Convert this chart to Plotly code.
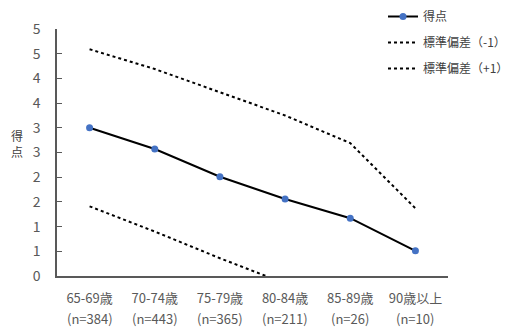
import plotly.graph_objects as go

categories = ["65-69歳", "70-74歳", "75-79歳", "80-84歳", "85-89歳", "90歳以上"]
n_labels = ["(n=384)", "(n=443)", "(n=365)", "(n=211)", "(n=26)", "(n=10)"]
score = [3.00, 2.57, 2.01, 1.56, 1.17, 0.51]
sd_minus = [1.41, 0.90, 0.36, -0.15, -0.36, -0.36]
sd_plus = [4.59, 4.19, 3.72, 3.25, 2.69, 1.37]
y_ticks = [0, 0.5, 1, 1.5, 2, 2.5, 3, 3.5, 4, 4.5, 5]
y_ticktext = ["0", "1", "1", "2", "2", "3", "3", "4", "4", "5", "5"]
y_title_chars = ["得", "点"]

FONT = "Noto Sans CJK JP"
GRAY = "#595959"
OFF = 8  # page body margin
W, H = 509 - OFF, 328 - OFF
ML, MR, MT, MB = 57 - OFF, 61, 29 - OFF, 52
plot_w = W - ML - MR
plot_h = H - MT - MB


def px_x(x_abs):
    return (x_abs - OFF - ML) / plot_w


def px_y(y_abs):
    return (H - MB - (y_abs - OFF)) / plot_h


fig = go.Figure()
fig.add_trace(go.Scatter(
    x=categories, y=score, name="得点", mode="lines+markers",
    line=dict(color="black", width=2),
    marker=dict(color="#4472C4", size=7),
    legendgroup="a",
))
fig.add_trace(go.Scatter(
    x=categories, y=sd_minus, name="標準偏差（-1）", mode="lines",
    line=dict(color="black", width=2, dash="dot"),
    legendgroup="b",
))
fig.add_trace(go.Scatter(
    x=categories, y=sd_plus, name="標準偏差（+1）", mode="lines",
    line=dict(color="black", width=2, dash="dot"),
    legendgroup="c",
))

for c, n in zip(categories, n_labels):
    fig.add_annotation(x=c, y=px_y(318), xref="x", yref="paper", text=n,
                       showarrow=False, yanchor="middle",
                       font=dict(family=FONT, size=13, color=GRAY))

for i, ch in enumerate(y_title_chars):
    fig.add_annotation(x=px_x(17), y=px_y(135 + 16 * i), xref="paper", yref="paper",
                       text=ch, showarrow=False, xanchor="center", yanchor="middle",
                       borderpad=0,
                       font=dict(family=FONT, size=12, color="#404040"))

fig.update_layout(
    width=W, height=H,
    margin=dict(l=ML, r=MR, t=MT, b=MB, autoexpand=False),
    paper_bgcolor="white", plot_bgcolor="white",
    font=dict(family=FONT, size=13, color=GRAY),
    showlegend=True,
    legend=dict(x=px_x(383), y=px_y(2), xanchor="left", yanchor="top",
                font=dict(family=FONT, size=12, color="#404040"),
                tracegroupgap=7, bgcolor="rgba(0,0,0,0)"),
    xaxis=dict(
        showline=True, linecolor="#595959", linewidth=1.5,
        showgrid=False, ticks="", tickfont=dict(family=FONT, size=13, color=GRAY),
        range=[-0.5, 5.5], zeroline=False, ticklabelstandoff=10,
    ),
    yaxis=dict(
        range=[0, 5], tickvals=y_ticks, ticktext=y_ticktext,
        showline=True, linecolor="#595959", linewidth=1.5,
        showgrid=False, zeroline=False,
        ticks="inside", ticklen=5, tickcolor="#595959",
        tickfont=dict(family=FONT, size=14, color=GRAY),
        ticklabelstandoff=12,
    ),
)

fig.write_html("out.html")
